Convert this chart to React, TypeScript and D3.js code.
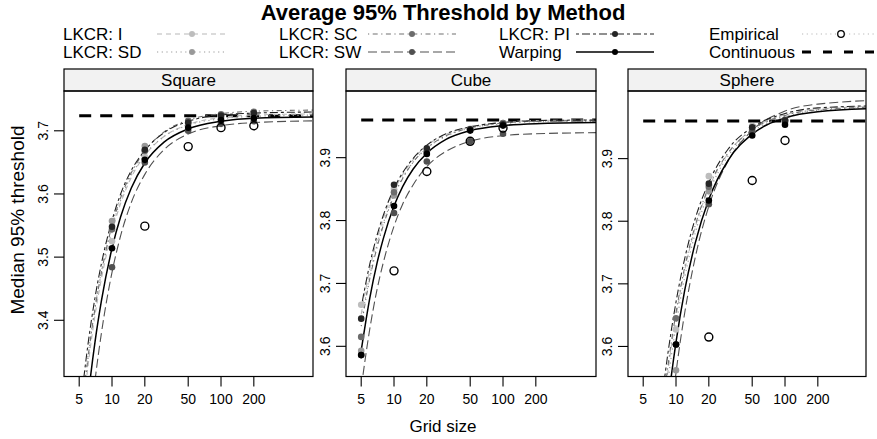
import React from "react";
import * as d3 from "d3";

// ---------- DATA ----------
const methods = ["LKCR: I", "LKCR: SD", "LKCR: SC", "LKCR: SW", "LKCR: PI", "Warping"];
const gridSizes = [5, 10, 20, 50, 100, 200];
const xTickValues = [5, 10, 20, 50, 100, 200];
const panelNames = ["Square", "Cube", "Sphere"];
const squareYTicks = [3.4, 3.5, 3.6, 3.7];
const cubeYTicks = [3.6, 3.7, 3.8, 3.9];
const sphereYTicks = [3.6, 3.7, 3.8, 3.9];
const continuousValues = [3.724, 3.96, 3.96];

const curveN = [5, 6, 7, 8, 10, 12, 15, 20, 30, 50, 100, 200, 1000];

// Square: fitted curves
const squareCurveI = [3.2, 3.325, 3.409, 3.466, 3.54, 3.585, 3.626, 3.661, 3.691, 3.71, 3.721, 3.725, 3.727];
const squareCurveSD = [3.223, 3.342, 3.422, 3.477, 3.547, 3.59, 3.629, 3.662, 3.691, 3.709, 3.719, 3.723, 3.725];
const squareCurveSC = [3.214, 3.338, 3.42, 3.476, 3.55, 3.594, 3.633, 3.668, 3.698, 3.717, 3.727, 3.731, 3.733];
const squareCurveSW = [3.038, 3.199, 3.306, 3.38, 3.476, 3.534, 3.586, 3.631, 3.67, 3.695, 3.708, 3.713, 3.716];
const squareCurvePI = [3.245, 3.36, 3.437, 3.49, 3.558, 3.6, 3.637, 3.669, 3.697, 3.715, 3.725, 3.728, 3.73];
const squareCurveW = [3.134, 3.274, 3.367, 3.431, 3.514, 3.564, 3.609, 3.649, 3.682, 3.703, 3.715, 3.72, 3.722];

// Cube: fitted curves
const cubeCurveI = [3.651, 3.723, 3.77, 3.804, 3.847, 3.873, 3.897, 3.919, 3.937, 3.949, 3.956, 3.959, 3.96];
const cubeCurveSD = [3.639, 3.712, 3.762, 3.796, 3.841, 3.868, 3.893, 3.915, 3.934, 3.947, 3.954, 3.957, 3.958];
const cubeCurveSC = [3.632, 3.708, 3.758, 3.793, 3.839, 3.867, 3.893, 3.915, 3.935, 3.947, 3.955, 3.958, 3.959];
const cubeCurveSW = [3.534, 3.628, 3.691, 3.734, 3.791, 3.826, 3.857, 3.886, 3.91, 3.926, 3.935, 3.938, 3.94];
const cubeCurvePI = [3.662, 3.731, 3.777, 3.809, 3.851, 3.876, 3.899, 3.92, 3.938, 3.949, 3.956, 3.959, 3.96];
const cubeCurveW = [3.593, 3.677, 3.733, 3.772, 3.823, 3.854, 3.882, 3.907, 3.929, 3.943, 3.951, 3.954, 3.956];

// Sphere: fitted curves
const sphereCurveI = [3.125, 3.312, 3.439, 3.529, 3.648, 3.721, 3.79, 3.853, 3.908, 3.947, 3.97, 3.979, 3.984];
const sphereCurveSD = [3.094, 3.288, 3.418, 3.512, 3.634, 3.71, 3.781, 3.846, 3.904, 3.943, 3.967, 3.977, 3.982];
const sphereCurveSC = [3.143, 3.326, 3.45, 3.538, 3.654, 3.726, 3.793, 3.855, 3.909, 3.946, 3.969, 3.978, 3.983];
const sphereCurveSW = [2.881, 3.124, 3.288, 3.405, 3.558, 3.653, 3.742, 3.824, 3.896, 3.945, 3.976, 3.987, 3.994];
const sphereCurvePI = [3.183, 3.358, 3.476, 3.56, 3.671, 3.74, 3.804, 3.862, 3.915, 3.95, 3.972, 3.981, 3.985];
const sphereCurveW = [3.026, 3.235, 3.375, 3.475, 3.607, 3.689, 3.765, 3.835, 3.897, 3.939, 3.965, 3.975, 3.981];

// Square: median points at gridSizes
const squarePointsI = [null, 3.525, 3.659, 3.709, 3.719, 3.722];
const squarePointsSD = [null, 3.557, 3.676, 3.712, 3.722, 3.726];
const squarePointsSC = [null, 3.544, 3.668, 3.716, 3.726, 3.73];
const squarePointsSW = [null, 3.484, 3.65, 3.7, 3.711, 3.715];
const squarePointsPI = [null, 3.548, 3.67, 3.713, 3.724, 3.728];
const squarePointsW = [null, 3.514, 3.654, 3.705, 3.717, 3.72];
const squareEmpirical = [null, null, 3.549, 3.675, 3.705, 3.708];

// Cube: median points
const cubePointsI = [3.666, 3.85, 3.912, 3.946, 3.955, null];
const cubePointsSD = [3.593, 3.84, 3.908, 3.945, 3.954, null];
const cubePointsSC = [3.615, 3.845, 3.91, 3.944, 3.955, null];
const cubePointsSW = [3.586, 3.812, 3.894, 3.926, 3.938, null];
const cubePointsPI = [3.644, 3.857, 3.915, 3.945, 3.953, null];
const cubePointsW = [3.586, 3.823, 3.906, 3.943, 3.951, null];
const cubeEmpirical = [null, 3.72, 3.878, 3.926, 3.947, null];

// Sphere: median points
const spherePointsI = [null, 3.627, 3.872, 3.952, 3.96, null];
const spherePointsSD = [null, 3.562, 3.848, 3.945, 3.958, null];
const spherePointsSC = [null, 3.645, 3.855, 3.949, 3.96, null];
const spherePointsSW = [null, null, 3.827, 3.943, 3.962, null];
const spherePointsPI = [null, 3.603, 3.86, 3.95, 3.961, null];
const spherePointsW = [null, 3.603, 3.833, 3.937, 3.954, null];
const sphereEmpirical = [null, null, 3.615, 3.865, 3.929, null];

// ---------- tables built from the arrays ----------
const curvesByPanel = [
  [squareCurveI, squareCurveSD, squareCurveSC, squareCurveSW, squareCurvePI, squareCurveW],
  [cubeCurveI, cubeCurveSD, cubeCurveSC, cubeCurveSW, cubeCurvePI, cubeCurveW],
  [sphereCurveI, sphereCurveSD, sphereCurveSC, sphereCurveSW, sphereCurvePI, sphereCurveW],
];
const pointsByPanel = [
  [squarePointsI, squarePointsSD, squarePointsSC, squarePointsSW, squarePointsPI, squarePointsW],
  [cubePointsI, cubePointsSD, cubePointsSC, cubePointsSW, cubePointsPI, cubePointsW],
  [spherePointsI, spherePointsSD, spherePointsSC, spherePointsSW, spherePointsPI, spherePointsW],
];
const empiricalByPanel = [squareEmpirical, cubeEmpirical, sphereEmpirical];
const yTicksByPanel = [squareYTicks, cubeYTicks, sphereYTicks];

// ---------- STYLE / LAYOUT ----------
const FONT = "'Liberation Sans', Arial, Helvetica, sans-serif";
const W = 877;
const H = 439;
const plotTop = 91;
const stripTop = 69;
const plotBottom = 376.5;

const panelLayout = [
  { left: 64, right: 313, yDomain: [3.311, 3.763] },
  { left: 346, right: 596, yDomain: [3.552, 4.006] },
  { left: 628, right: 866, yDomain: [3.552, 4.008] },
];
const xLeftN = 3.627;
const decadePx = 109;

const lineColors = ["#b8b8b8", "#9a9a9a", "#707070", "#505050", "#222222", "#000000"];
const pointColors = ["#bdbdbd", "#999999", "#6c6c6c", "#505050", "#262626", "#000000"];
const dashes = ["5,4", "1.2,3.5", "1.2,3.5,5,3.5", "9,4", "3,3,8,3", ""];
const lineWidths = [1.1, 1.2, 1.1, 1.1, 1.1, 1.5];

function Panel({ idx }: { idx: number }) {
  const L = panelLayout[idx];
  const nMax = Math.pow(10, Math.log10(xLeftN) + (L.right - L.left) / decadePx);
  const x = d3.scaleLog().domain([xLeftN, nMax]).range([L.left, L.right]);
  const y = d3.scaleLinear().domain(L.yDomain).range([plotBottom, plotTop]);
  const clipId = `clip-${idx}`;
  const line = d3
    .line<[number, number]>()
    .x((d) => x(d[0]))
    .y((d) => y(d[1]))
    .curve(d3.curveMonotoneX);
  const curves = curvesByPanel[idx];
  const pts = pointsByPanel[idx];
  const emp = empiricalByPanel[idx];
  const cx = (L.left + L.right) / 2;
  return (
    <g>
      <defs>
        <clipPath id={clipId}>
          <rect x={L.left} y={plotTop} width={L.right - L.left} height={plotBottom - plotTop} />
        </clipPath>
      </defs>
      <rect x={L.left} y={stripTop} width={L.right - L.left} height={plotTop - stripTop} fill="#f2f2f2" stroke="#000" strokeWidth={1.2} />
      <text x={cx} y={plotTop - 5} textAnchor="middle" fontSize={17} fontFamily={FONT}>
        {panelNames[idx]}
      </text>
      <g clipPath={`url(#${clipId})`}>
        <line x1={x(5)} x2={L.right} y1={y(continuousValues[idx])} y2={y(continuousValues[idx])} stroke="#000" strokeWidth={3} strokeDasharray="12,9" />
        {curves.map((c, i) => (
          <path
            key={"c" + i}
            d={line(curveN.map((n, j) => [n, c[j]] as [number, number])) || ""}
            fill="none"
            stroke={lineColors[i]}
            strokeWidth={lineWidths[i]}
            strokeDasharray={dashes[i] || undefined}
          />
        ))}
        {pts.map((arr, i) =>
          arr.map((v, j) =>
            v == null ? null : (
              <circle key={`p${i}-${j}`} cx={x(gridSizes[j])} cy={y(v)} r={3.3} fill={pointColors[i]} />
            )
          )
        )}
        {emp.map((v, j) =>
          v == null ? null : (
            <circle key={`e${j}`} cx={x(gridSizes[j])} cy={y(v)} r={4} fill="none" stroke="#000" strokeWidth={1.4} />
          )
        )}
      </g>
      <rect x={L.left} y={plotTop} width={L.right - L.left} height={plotBottom - plotTop} fill="none" stroke="#000" strokeWidth={1.2} />
      {xTickValues.map((t) => (
        <g key={"xt" + t}>
          <line x1={x(t)} x2={x(t)} y1={plotBottom} y2={plotBottom + 10} stroke="#000" strokeWidth={1.1} />
          <text x={x(t)} y={404} textAnchor="middle" fontSize={14} fontFamily={FONT}>
            {t}
          </text>
        </g>
      ))}
      {yTicksByPanel[idx].map((t) => (
        <g key={"yt" + t}>
          <line x1={L.left - 10} x2={L.left} y1={y(t)} y2={y(t)} stroke="#000" strokeWidth={1.1} />
          <text
            transform={`translate(${L.left - 16},${y(t)}) rotate(-90)`}
            textAnchor="middle"
            fontSize={14}
            fontFamily={FONT}
          >
            {t.toFixed(1)}
          </text>
        </g>
      ))}
    </g>
  );
}

const legendCols = [
  { tx: 63, x1: 157, x2: 227 },
  { tx: 279, x1: 368, x2: 456 },
  { tx: 499, x1: 576, x2: 654 },
  { tx: 709, x1: 802, x2: 880 },
];
const legendRowsY = [34, 52];

function Legend() {
  const items: React.ReactNode[] = [];
  methods.forEach((m, i) => {
    const col = legendCols[Math.floor(i / 2)];
    const yy = legendRowsY[i % 2];
    const mid = (col.x1 + col.x2) / 2;
    items.push(
      <g key={"lg" + i}>
        <text x={col.tx} y={yy + 6} fontSize={17} fontFamily={FONT}>{m}</text>
        <line x1={col.x1} x2={col.x2} y1={yy} y2={yy} stroke={lineColors[i]} strokeWidth={lineWidths[i]} strokeDasharray={dashes[i] || undefined} />
        <circle cx={mid} cy={yy} r={3} fill={pointColors[i]} />
      </g>
    );
  });
  const c4 = legendCols[3];
  items.push(
    <g key="lg-emp">
      <text x={c4.tx} y={legendRowsY[0] + 6} fontSize={17} fontFamily={FONT}>Empirical</text>
      <line x1={c4.x1} x2={c4.x2} y1={legendRowsY[0]} y2={legendRowsY[0]} stroke="#b8b8b8" strokeWidth={1.2} strokeDasharray="1.2,3.5" />
      <circle cx={841} cy={legendRowsY[0]} r={3.3} fill="#fff" stroke="#000" strokeWidth={1.3} />
    </g>
  );
  items.push(
    <g key="lg-cont">
      <text x={c4.tx} y={legendRowsY[1] + 6} fontSize={17} fontFamily={FONT}>Continuous</text>
      <line x1={c4.x1} x2={c4.x2} y1={legendRowsY[1]} y2={legendRowsY[1]} stroke="#000" strokeWidth={3} strokeDasharray="9,12" />
    </g>
  );
  return <g>{items}</g>;
}

export default function App() {
  return (
    <svg width={W} height={H} style={{ position: "absolute", left: 0, top: 0, background: "#fff" }}>
      <rect x={0} y={0} width={W} height={H} fill="#fff" />
      <text x={443} y={20} textAnchor="middle" fontSize={22} fontWeight="bold" fontFamily={FONT}>
        Average 95% Threshold by Method
      </text>
      <Legend />
      {[0, 1, 2].map((i) => (
        <Panel key={i} idx={i} />
      ))}
      <text x={443} y={432} textAnchor="middle" fontSize={17} fontFamily={FONT}>
        Grid size
      </text>
      <text transform={`translate(24,220) rotate(-90)`} textAnchor="middle" fontSize={19} fontFamily={FONT}>
        Median 95% threshold
      </text>
    </svg>
  );
}
